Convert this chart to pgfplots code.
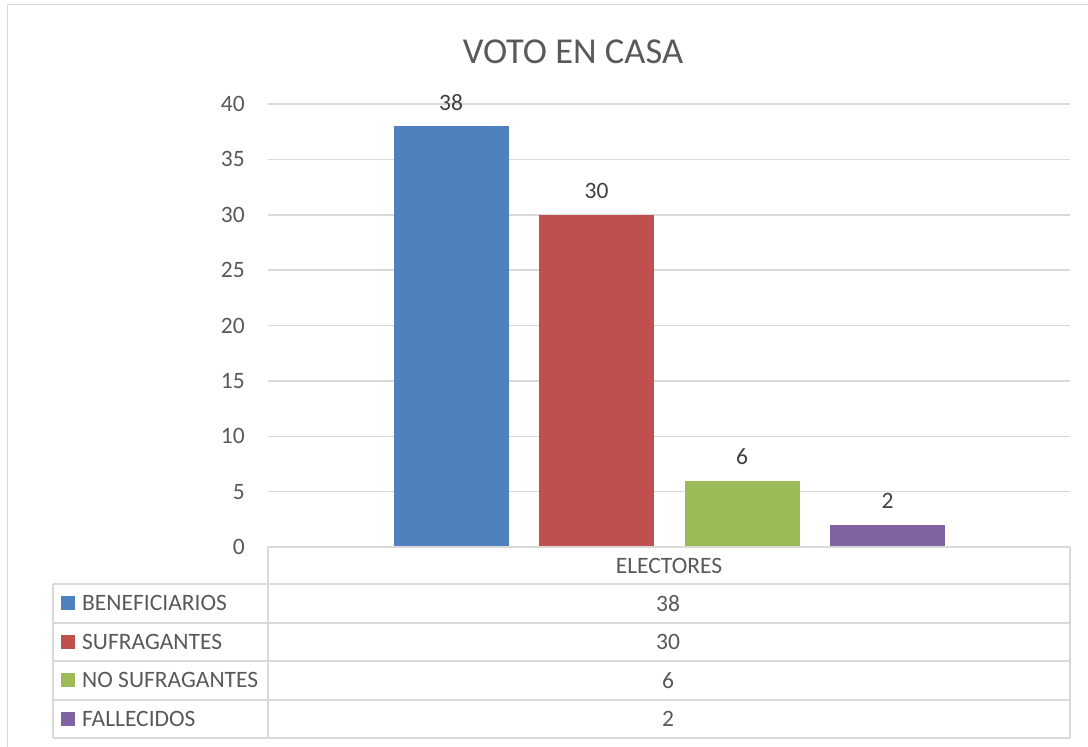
\documentclass[border=0pt]{standalone}
\usepackage{pgfplots}
\pgfplotsset{compat=1.18}
\usepackage{fontspec}
\setmainfont{Carlito}
\definecolor{txt}{HTML}{595959}
\definecolor{lbl}{HTML}{404040}
\definecolor{gridc}{HTML}{D9D9D9}
\definecolor{cA}{HTML}{4F81BD}
\definecolor{cB}{HTML}{C0504D}
\definecolor{cC}{HTML}{9BBB59}
\definecolor{cD}{HTML}{8064A2}
\newcommand{\fs}{\fontsize{23.5}{28}\selectfont}
\begin{document}
\begin{tikzpicture}
\useasboundingbox (0pt,0pt) rectangle (1088pt,-747pt);
% outer chart border
\draw[gridc, line width=1.5pt] (7.5pt,-760pt) -- (7.5pt,-4.5pt) -- (1100pt,-4.5pt);
% title
\node[text=txt, inner sep=0pt] at (573pt,-52pt) {\fontsize{36.5}{40}\selectfont VOTO EN CASA};
\begin{axis}[
  at={(268pt,-547pt)}, anchor=south west,
  scale only axis, width=802pt, height=443pt,
  xmin=0, xmax=802, ymin=0, ymax=40,
  ytick={0,5,...,40}, xtick=\empty,
  /pgf/number format/assume math mode=true,
  ymajorgrids, grid style={gridc, line width=1.5pt},
  axis line style={draw=none}, major tick length=0pt,
  yticklabel style={font=\fs, text=txt, inner sep=0pt, xshift=-23pt},
  ybar, bar width=115pt,
  nodes near coords,
  every node near coord/.append style={font=\fs, text=lbl, anchor=center, inner sep=0pt, yshift=24pt},
  clip=false,
]
\addplot[ybar, bar shift=-218pt, fill=cA, draw=none] coordinates {(401,38)};
\addplot[ybar, bar shift=-72.5pt, fill=cB, draw=none] coordinates {(401,30)};
\addplot[ybar, bar shift=73pt, fill=cC, draw=none] coordinates {(401,6)};
\addplot[ybar, bar shift=218.5pt, fill=cD, draw=none] coordinates {(401,2)};
\end{axis}
% data table
\begin{scope}[gridc, line width=2pt]
\draw (268pt,-547pt) -- (1070pt,-547pt);
\foreach \y in {584,622.5,661,699.5,738} \draw (53pt,-\y pt) -- (1070pt,-\y pt);
\draw (268pt,-547pt) -- (268pt,-738pt);
\draw (1070pt,-547pt) -- (1070pt,-738pt);
\draw (53pt,-584pt) -- (53pt,-738pt);
\end{scope}
\node[text=txt, inner sep=0pt] at (669pt,-565.5pt) {\fs ELECTORES};
\foreach \y/\v/\n/\c in {603.25/38/BENEFICIARIOS/cA, 641.75/30/SUFRAGANTES/cB, 680.25/6/NO SUFRAGANTES/cC, 718.75/2/FALLECIDOS/cD} {
  \node[text=txt, inner sep=0pt] at (668pt,-\y pt) {\fs \v};
  \fill[\c] (61pt,-\y pt+7pt) rectangle (75pt,-\y pt-7pt);
  \node[text=txt, inner sep=0pt, anchor=west] at (82pt,-\y pt) {\fs \n};
}
\end{tikzpicture}
\end{document}
